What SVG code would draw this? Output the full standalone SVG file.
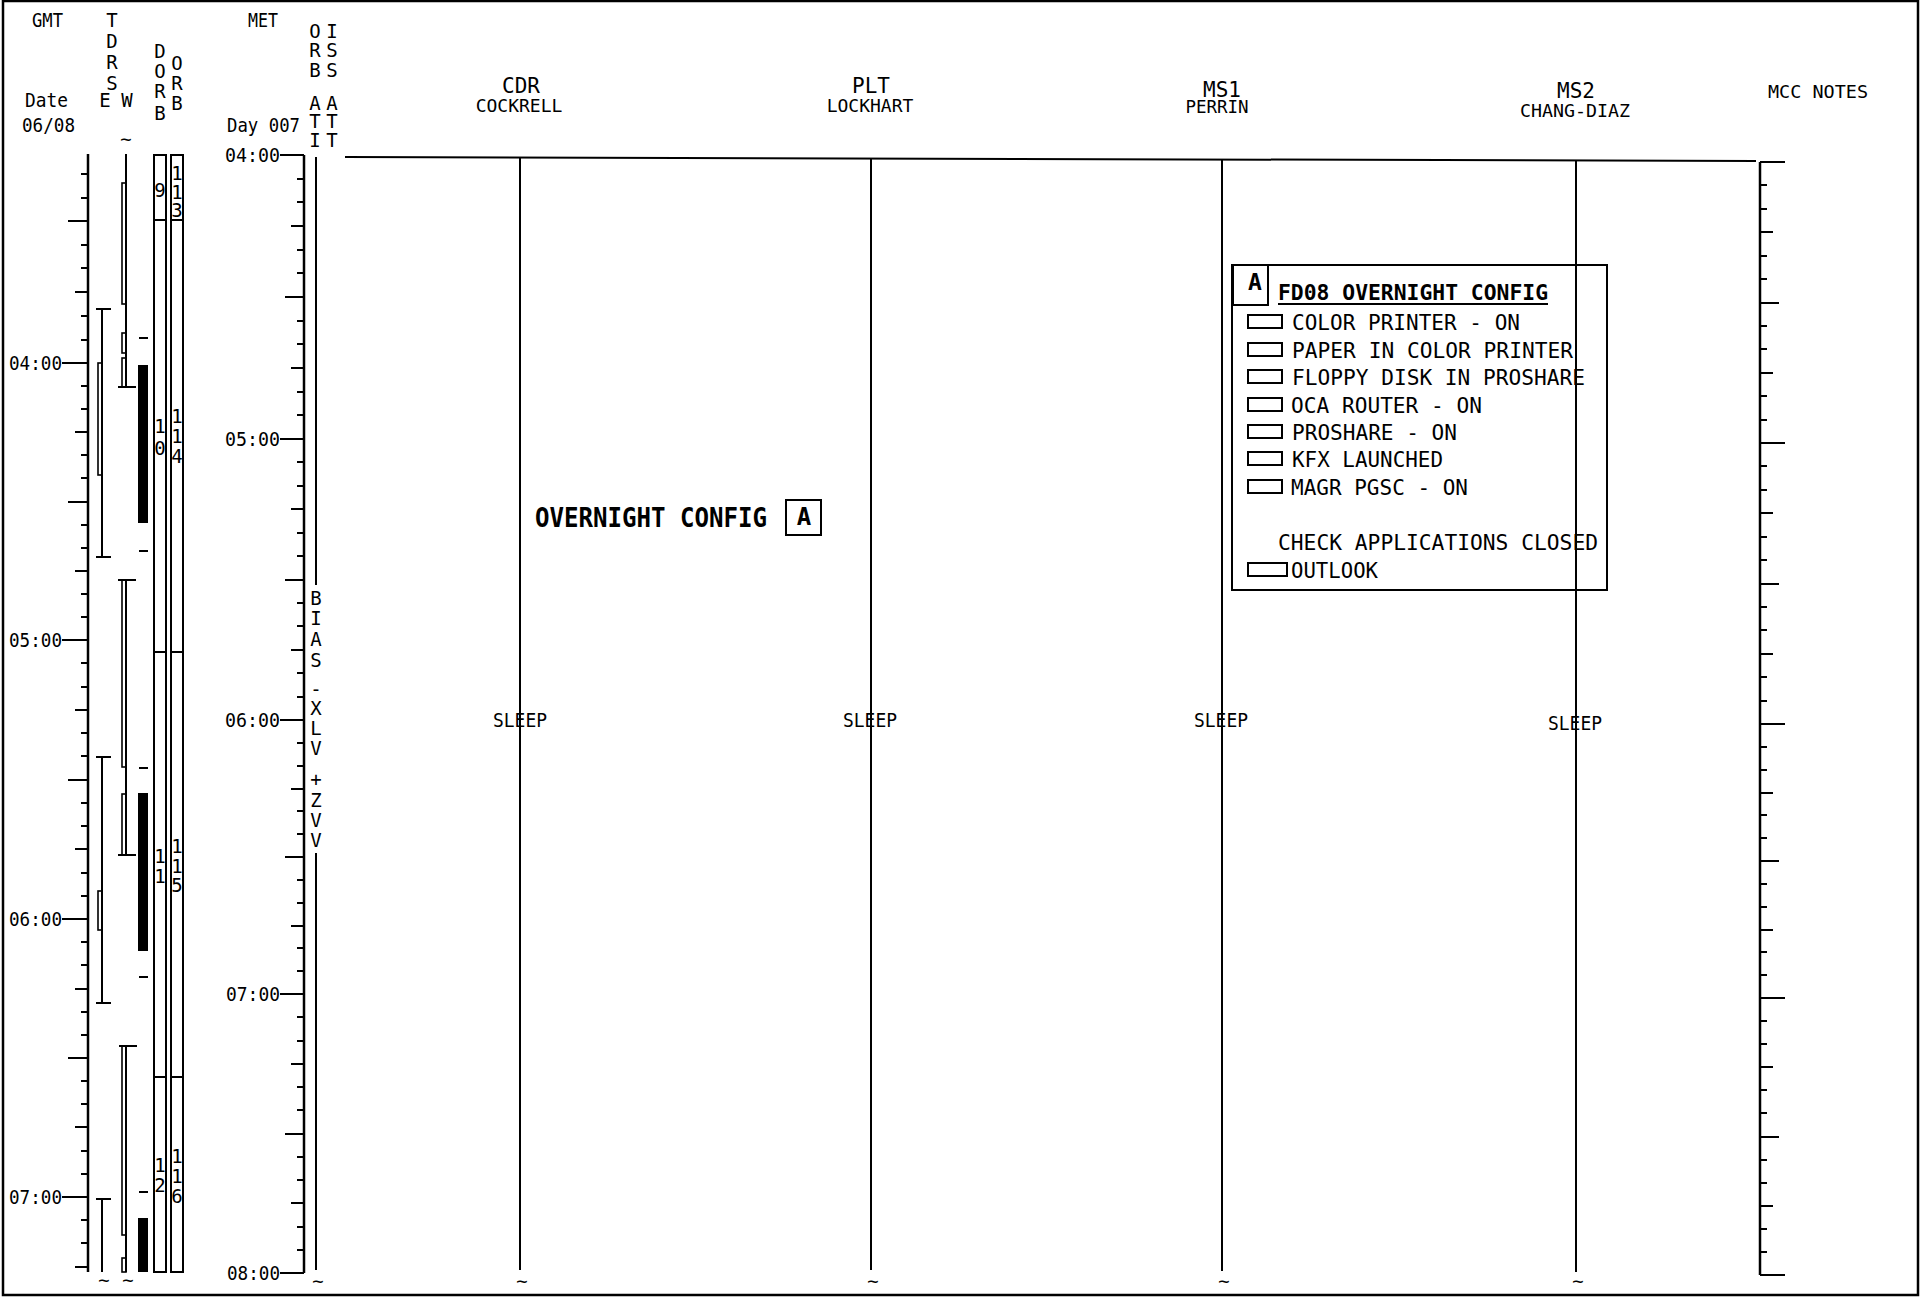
<svg xmlns="http://www.w3.org/2000/svg" width="1927" height="1297" viewBox="0 0 1927 1297">
<style>
.ln{stroke:#000;stroke-width:2;fill:none}
.ax{stroke:#000;stroke-width:2.5;fill:none}
.th{stroke:#000;stroke-width:1.6;fill:none}
.blk{fill:#000;stroke:none}
.tx{font-family:"DejaVu Sans Mono","Liberation Mono",monospace;fill:#000}
.b{font-weight:bold}
.c{text-anchor:middle}
.s19{font-size:19px}
.s20{font-size:20px}
.s23{font-size:23px}
</style>
<rect x="0" y="0" width="1927" height="1297" fill="#fff"/>
<rect id="frame" x="3" y="1" width="1915" height="1294" fill="none" stroke="#000" stroke-width="2.5"/>

<g id="header-left">
<text class="tx s19" x="32" y="27" textLength="31" lengthAdjust="spacingAndGlyphs">GMT</text>
<g class="tx s19 c">
<text><tspan x="112" y="27">T</tspan><tspan x="112" y="48">D</tspan><tspan x="112" y="69">R</tspan><tspan x="112" y="90">S</tspan><tspan x="105" y="107">E</tspan><tspan x="127" y="107">W</tspan></text>
<text><tspan x="160" y="58">D</tspan><tspan x="160" y="78">O</tspan><tspan x="160" y="98">R</tspan><tspan x="160" y="120">B</tspan></text>
<text><tspan x="177" y="70">O</tspan><tspan x="177" y="90">R</tspan><tspan x="177" y="110">B</tspan></text>
<text><tspan x="315" y="38">O</tspan><tspan x="315" y="57">R</tspan><tspan x="315" y="77">B</tspan><tspan x="315" y="110">A</tspan><tspan x="315" y="128">T</tspan><tspan x="315" y="147">I</tspan></text>
<text><tspan x="332" y="38">I</tspan><tspan x="332" y="57">S</tspan><tspan x="332" y="77">S</tspan><tspan x="332" y="110">A</tspan><tspan x="332" y="128">T</tspan><tspan x="332" y="147">T</tspan></text>
</g>
<text class="tx s19" x="25" y="107" textLength="43" lengthAdjust="spacingAndGlyphs">Date</text>
<text class="tx s19" x="22" y="132" textLength="53" lengthAdjust="spacingAndGlyphs">06/08</text>
<text class="tx s19" x="248" y="27" textLength="30" lengthAdjust="spacingAndGlyphs">MET</text>
<text class="tx s19" x="227" y="132" textLength="73" lengthAdjust="spacingAndGlyphs">Day 007</text>
</g>

<g id="gmt-axis">
<path class="ax" d="M88 154V1272"/>
<path class="ln" d="M81 174H88M81 198H88M68 221H88M81 245H88M81 268H88M75 292H88M81 316H88M81 340H88M62 363H88
M81 386H88M81 409H88M75 432H88M81 455H88M81 478H88M68 502H88M81 525H88M81 548H88M75 571H88M81 594H88M81 617H88M62 640H88
M81 663H88M81 687H88M75 710H88M81 733H88M81 756H88M68 780H88M81 803H88M81 826H88M75 849H88M81 873H88M81 896H88M62 919H88
M81 942H88M81 965H88M75 989H88M81 1012H88M81 1035H88M68 1058H88M81 1081H88M81 1104H88M75 1127H88M81 1151H88M81 1174H88M62 1197H88
M81 1220H88M81 1243H88M75 1267H88"/>
<g class="tx s19">
<text x="9" y="370" textLength="53" lengthAdjust="spacingAndGlyphs">04:00</text>
<text x="9" y="647" textLength="53" lengthAdjust="spacingAndGlyphs">05:00</text>
<text x="9" y="926" textLength="53" lengthAdjust="spacingAndGlyphs">06:00</text>
<text x="9" y="1204" textLength="53" lengthAdjust="spacingAndGlyphs">07:00</text>
</g>
</g>

<g id="tdrs-e">
<path class="ln" d="M102 309V557M96 309H111M96 557H111M102 757V1003M96 757H111M96 1003H111M102 1199V1272M96 1199H111"/>
<rect class="th" x="98" y="363" width="4" height="112"/>
<rect class="th" x="98" y="891" width="4" height="39"/>
</g>

<g id="tdrs-w">
<path class="ln" d="M126 154V387M118 387H136M126 580V855M118 580H136M118 855H136M126 1046V1272M119 1046H137"/>
<rect class="th" x="122" y="183" width="4" height="121"/>
<rect class="th" x="122" y="333" width="4" height="20"/>
<rect class="th" x="122" y="358" width="4" height="29"/>
<rect class="th" x="122" y="580" width="4" height="187"/>
<rect class="th" x="122" y="794" width="4" height="61"/>
<rect class="th" x="122" y="1046" width="4" height="189"/>
<rect class="th" x="122" y="1258" width="4" height="14"/>
<text class="tx s19 c" x="126" y="146">~</text>
</g>

<g id="dorb-bars">
<rect class="blk" x="138" y="365" width="10" height="158"/>
<rect class="blk" x="138" y="793" width="10" height="158"/>
<rect class="blk" x="138" y="1218" width="10" height="54"/>
<path class="ln" d="M139 338H148M139 551H148M139 768H148M139 977H148M139 1192H148"/>
</g>

<g id="dorb-column">
<rect class="ln" x="154" y="155" width="12" height="1117"/>
<path class="ln" d="M154 220H166M154 652H166M154 1077H166"/>
<g class="tx s19 c">
<text x="160" y="197">9</text>
<text><tspan x="160" y="433">1</tspan><tspan x="160" y="455">0</tspan></text>
<text><tspan x="160" y="863">1</tspan><tspan x="160" y="883">1</tspan></text>
<text><tspan x="160" y="1172">1</tspan><tspan x="160" y="1192">2</tspan></text>
</g>
</g>

<g id="orb-column">
<rect class="ln" x="171" y="155" width="12" height="1117"/>
<path class="ln" d="M171 220H183M171 652H183M171 1077H183"/>
<g class="tx s19 c">
<text><tspan x="177" y="180">1</tspan><tspan x="177" y="199">1</tspan><tspan x="177" y="217">3</tspan></text>
<text><tspan x="177" y="423">1</tspan><tspan x="177" y="443">1</tspan><tspan x="177" y="463">4</tspan></text>
<text><tspan x="177" y="853">1</tspan><tspan x="177" y="873">1</tspan><tspan x="177" y="892">5</tspan></text>
<text><tspan x="177" y="1163">1</tspan><tspan x="177" y="1183">1</tspan><tspan x="177" y="1203">6</tspan></text>
</g>
</g>

<g id="met-axis">
<path class="ax" d="M304 155V1273"/>
<path class="ln" d="M280 155H304M297 179H304M297 202H304M291 226H304M297 250H304M297 273H304M285 297H304M297 321H304M297 344H304M291 368H304M297 392H304M297 415H304M280 439H304
M297 462H304M297 486H304M291 509H304M297 533H304M297 556H304M285 580H304M297 603H304M297 626H304M291 650H304M297 673H304M297 697H304M280 720H304
M297 743H304M297 766H304M291 789H304M297 811H304M297 834H304M285 857H304M297 880H304M297 903H304M291 926H304M297 948H304M297 971H304M280 994H304
M297 1017H304M297 1041H304M291 1064H304M297 1087H304M297 1110H304M285 1134H304M297 1157H304M297 1180H304M291 1203H304M297 1227H304M297 1250H304M280 1273H304"/>
<g class="tx s19">
<text x="225" y="162" textLength="55" lengthAdjust="spacingAndGlyphs">04:00</text>
<text x="225" y="446" textLength="55" lengthAdjust="spacingAndGlyphs">05:00</text>
<text x="225" y="727" textLength="55" lengthAdjust="spacingAndGlyphs">06:00</text>
<text x="226" y="1001" textLength="54" lengthAdjust="spacingAndGlyphs">07:00</text>
<text x="227" y="1280" textLength="53" lengthAdjust="spacingAndGlyphs">08:00</text>
</g>
</g>

<g id="orb-att">
<path class="ln" d="M316 157V585M316 853V1270"/>
<text class="tx s19 c"><tspan x="316" y="605">B</tspan><tspan x="316" y="625">I</tspan><tspan x="316" y="646">A</tspan><tspan x="316" y="667">S</tspan><tspan x="316" y="696">-</tspan><tspan x="316" y="715">X</tspan><tspan x="316" y="735">L</tspan><tspan x="316" y="755">V</tspan><tspan x="316" y="786">+</tspan><tspan x="316" y="807">Z</tspan><tspan x="316" y="827">V</tspan><tspan x="316" y="847">V</tspan></text>
</g>

<g id="connectors">
<path class="ln" d="M345 157L1756 161"/>
<path class="ln" d="M520 158V1270M871 158V1270M1222 159V1271M1576 160V1272"/>
<text class="tx s19 c"><tspan x="104" y="1287">~</tspan><tspan x="128" y="1287">~</tspan><tspan x="318" y="1288">~</tspan><tspan x="522" y="1288">~</tspan><tspan x="873" y="1288">~</tspan><tspan x="1224" y="1288">~</tspan><tspan x="1578" y="1288">~</tspan></text>
</g>

<g id="cdr">
<text class="tx c"><tspan x="521" y="93" font-size="21">CDR</tspan><tspan x="519" y="112" font-size="18">COCKRELL</tspan></text>
<text class="tx s20 c" x="520" y="727" textLength="54" lengthAdjust="spacingAndGlyphs">SLEEP</text>
</g>
<g id="plt">
<text class="tx c"><tspan x="871" y="93" font-size="21">PLT</tspan><tspan x="870" y="112" font-size="18">LOCKHART</tspan></text>
<text class="tx s20 c" x="870" y="727" textLength="54" lengthAdjust="spacingAndGlyphs">SLEEP</text>
</g>
<g id="ms1">
<text class="tx c"><tspan x="1222" y="97" font-size="21">MS1</tspan><tspan x="1217" y="113" font-size="17.5">PERRIN</tspan></text>
<text class="tx s20 c" x="1221" y="727" textLength="54" lengthAdjust="spacingAndGlyphs">SLEEP</text>
</g>
<g id="ms2">
<text class="tx c"><tspan x="1576" y="98" font-size="21">MS2</tspan><tspan x="1575" y="117" font-size="18.3">CHANG-DIAZ</tspan></text>
<text class="tx s20 c" x="1575" y="730" textLength="54" lengthAdjust="spacingAndGlyphs">SLEEP</text>
</g>

<g id="mcc-notes">
<text class="tx" font-size="18" x="1768" y="98" textLength="100" lengthAdjust="spacingAndGlyphs">MCC NOTES</text>
<path class="ax" d="M1760 162V1275"/>
<path class="ln" d="M1760 162H1785M1760 185H1767M1760 209H1767M1760 232H1773M1760 256H1767M1760 279H1767M1760 303H1779M1760 326H1767M1760 349H1767M1760 373H1773M1760 396H1767M1760 420H1767M1760 443H1785
M1760 466H1767M1760 490H1767M1760 513H1773M1760 537H1767M1760 560H1767M1760 584H1779M1760 607H1767M1760 630H1767M1760 654H1773M1760 677H1767M1760 701H1767M1760 724H1785
M1760 747H1767M1760 770H1767M1760 793H1773M1760 815H1767M1760 838H1767M1760 861H1779M1760 884H1767M1760 907H1767M1760 930H1773M1760 952H1767M1760 975H1767M1760 998H1785
M1760 1021H1767M1760 1044H1767M1760 1067H1773M1760 1090H1767M1760 1113H1767M1760 1137H1779M1760 1160H1767M1760 1183H1767M1760 1206H1773M1760 1229H1767M1760 1252H1767M1760 1275H1785"/>
</g>

<g id="overnight-config">
<text class="tx b" font-size="26" x="535" y="527" textLength="232" lengthAdjust="spacingAndGlyphs">OVERNIGHT CONFIG</text>
<rect class="ln" x="786" y="500" width="35" height="35"/>
<text class="tx b c" font-size="24" x="804" y="525">A</text>
</g>

<g id="checklist">
<rect class="ln" x="1232" y="265" width="375" height="325"/>
<rect class="ln" x="1233" y="265" width="35" height="40"/>
<text class="tx b c s23" x="1255" y="290">A</text>
<text class="tx b" font-size="22" x="1278" y="300" textLength="270" lengthAdjust="spacingAndGlyphs">FD08 OVERNIGHT CONFIG</text>
<path class="ln" d="M1278 304H1548"/>
<g class="ln">
<rect x="1248" y="315" width="34" height="13"/>
<rect x="1248" y="343" width="34" height="13"/>
<rect x="1248" y="370" width="34" height="13"/>
<rect x="1248" y="398" width="34" height="13"/>
<rect x="1248" y="425" width="34" height="13"/>
<rect x="1248" y="452" width="34" height="13"/>
<rect x="1248" y="480" width="34" height="13"/>
<rect x="1248" y="563" width="39" height="13"/>
</g>
<g class="tx" font-size="22">
<text x="1292" y="330" textLength="228" lengthAdjust="spacingAndGlyphs">COLOR PRINTER - ON</text>
<text x="1292" y="358" textLength="281" lengthAdjust="spacingAndGlyphs">PAPER IN COLOR PRINTER</text>
<text x="1292" y="385" textLength="293" lengthAdjust="spacingAndGlyphs">FLOPPY DISK IN PROSHARE</text>
<text x="1291" y="413" textLength="191" lengthAdjust="spacingAndGlyphs">OCA ROUTER - ON</text>
<text x="1292" y="440" textLength="165" lengthAdjust="spacingAndGlyphs">PROSHARE - ON</text>
<text x="1292" y="467" textLength="151" lengthAdjust="spacingAndGlyphs">KFX LAUNCHED</text>
<text x="1291" y="495" textLength="177" lengthAdjust="spacingAndGlyphs">MAGR PGSC - ON</text>
<text x="1278" y="550" textLength="320" lengthAdjust="spacingAndGlyphs">CHECK APPLICATIONS CLOSED</text>
<text x="1291" y="578" textLength="87" lengthAdjust="spacingAndGlyphs">OUTLOOK</text>
</g>
</g>
</svg>
